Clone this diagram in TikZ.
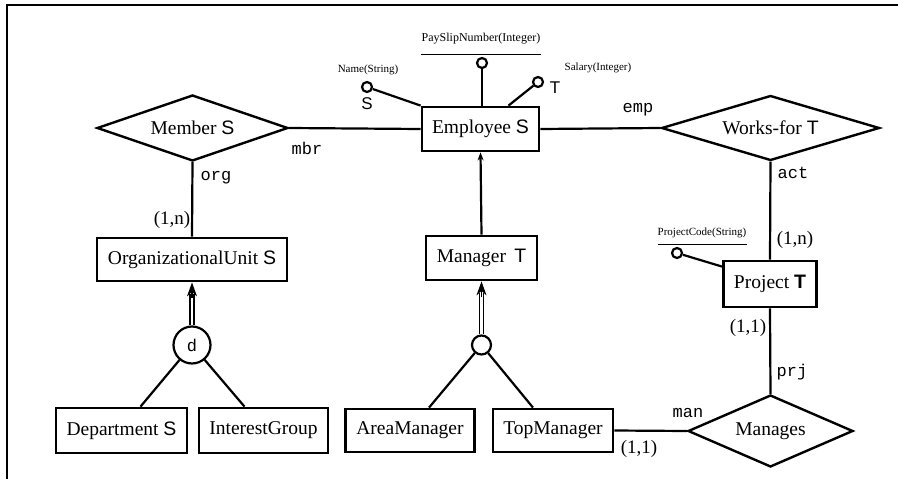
\documentclass[tikz,border=0pt]{standalone}
\usepackage{fontspec}
\setmainfont{Liberation Serif}
\setsansfont{Liberation Sans}
\setmonofont{Liberation Mono}
\usetikzlibrary{shapes.geometric,arrows.meta,calc}
\begin{document}
\begin{tikzpicture}[x=1pt,y=-1pt,
  ent/.style={draw, line width=2.8pt, inner sep=0pt, font=\fontsize{19.5}{21}\selectfont},
  rel/.style={diamond, draw, line width=2.4pt, inner sep=0pt, font=\fontsize{19.5}{21}\selectfont},
  conn/.style={line width=2.2pt},
  role/.style={font=\ttfamily\fontsize{17}{18}\selectfont, inner sep=0pt},
  card/.style={font=\fontsize{19}{20}\selectfont, inner sep=0pt},
  attr/.style={circle, draw, line width=2.2pt, fill=white, minimum size=10pt, inner sep=0pt},
  aname/.style={font=\fontsize{11}{12}\selectfont, inner sep=0pt},
  let/.style={font=\sffamily\fontsize{17}{18}\selectfont, inner sep=0pt},
  gen/.style={circle, draw, line width=2.2pt, inner sep=0pt},
  dbl/.style={line width=1.4pt, double, double distance=2.5pt},
  gtip/.style={line width=1.2pt, -{Stealth[length=14pt,width=10pt]}}
]
\useasboundingbox (0,0) rectangle (898,479);
\draw[line width=2.8pt] (7,479) -- (7,5) -- (898,5);

% entities
\node[ent, minimum width=117pt, minimum height=44pt] (emp) at (480.5,129) {Employee \textsf{S}};
\node[ent, minimum width=190pt, minimum height=43pt] (ou) at (192,259.5) {OrganizationalUnit \textsf{S}};
\node[ent, minimum width=111pt, minimum height=44pt] (mgr) at (481.5,258) {Manager\, \textsf{T}};
\node[ent, minimum width=93pt, minimum height=46pt] (proj) at (770,284) {Project \textsf{\bfseries T}};
\node[ent, minimum width=131pt, minimum height=45pt] (dep) at (121.5,430.5) {Department \textsf{S}};
\node[ent, minimum width=129pt, minimum height=45pt] (ig) at (263.5,430.5) {InterestGroup};
\node[ent, minimum width=129pt, minimum height=43pt] (am) at (410,430.5) {AreaManager};
\node[ent, minimum width=120pt, minimum height=43pt] (top) at (553,430.5) {TopManager};

% relationships
\node[rel, shape aspect=2.9, minimum width=191pt, minimum height=66pt] (mem) at (192.5,128) {Member \textsf{S}};
\node[rel, shape aspect=3.35, minimum width=218pt, minimum height=65pt] (wf) at (770.5,128) {Works-for \textsf{T}};
\node[rel, shape aspect=2.3, minimum width=165pt, minimum height=72pt] (man) at (770.5,431) {Manages};

% generalization circles
\node[gen, minimum size=37pt, font=\ttfamily\fontsize{17}{18}\selectfont] (g1) at (192,345) {d};
\node[gen, minimum size=19pt] (g2) at (481.5,345) {};

% connectors
\draw[conn] (mem.east) -- (emp.west);
\draw[conn] (emp.east) -- (wf.west);
\draw[conn] (mem.south) -- (ou.north);
\draw[conn] (wf.south) -- (proj.north);
\draw[conn] (proj.south) -- (man.north);
\draw[conn] (top.east) -- (man.west);
\draw[conn, -{Stealth[length=8pt,width=6pt]}] (mgr.north) -- (emp.south);
\draw[dbl] (g1.north) -- ($(ou.south)+(0,12)$);
\draw[gtip] ($(ou.south)+(0,16)$) -- (ou.south);
\draw[dbl] (g2.north) -- ($(mgr.south)+(0,12)$);
\draw[gtip] ($(mgr.south)+(0,16)$) -- (mgr.south);
\draw[conn] (g1) -- ($(dep.north)+(19,0)$);
\draw[conn] (g1) -- ($(ig.north)+(-19,0)$);
\draw[conn] (g2) -- ($(am.north)+(19,0)$);
\draw[conn] (g2) -- ($(top.north)+(-20,0)$);

% attributes
\node[attr] (aname) at (367,87) {};
\draw[conn] (aname) -- (emp.north west);
\node[aname] (lname) at (368,70) {Name(String)};
\node[let] (sname) at (367,104) {S};

\node[attr] (apay) at (482,63) {};
\draw[conn] (apay) -- (apay |- emp.north);
\node[aname, font=\fontsize{12}{13}\selectfont] (lpay) at (481,39) {PaySlipNumber(Integer)};
\draw[line width=1.4pt] ($(lpay.south west)+(0,10)$) -- ($(lpay.south east)+(0,10)$);

\node[attr] (asal) at (538,82) {};
\draw[conn] (asal) -- ($(emp.north)+(28,0)$);
\node[let] (tsal) at (555,88) {T};
\node[aname] (lsal) at (598,68) {Salary(Integer)};

\node[attr] (apc) at (677,253) {};
\draw[conn] (apc) -- ($(proj.north west)+(0,7)$);
\node[aname] (lpc) at (702,233) {ProjectCode(String)};
\draw[line width=1.4pt] ($(lpc.south west)+(0,6)$) -- ($(lpc.south east)+(0,6)$);

% role labels and cardinalities
\node[role] (rmbr) at (307,148) {mbr};
\node[role] (rorg) at (216,178) {org};
\node[card] (c1) at (172,220) {(1,n)};
\node[role] (remp) at (638,110) {emp};
\node[role] (ract) at (793,173) {act};
\node[card] (c2) at (795,240) {(1,n)};
\node[card] (c3) at (748,328) {(1,1)};
\node[role] (rprj) at (792,372) {prj};
\node[role] (rman) at (688,413) {man};
\node[card] (c4) at (639,449) {(1,1)};
\end{tikzpicture}
\end{document}
